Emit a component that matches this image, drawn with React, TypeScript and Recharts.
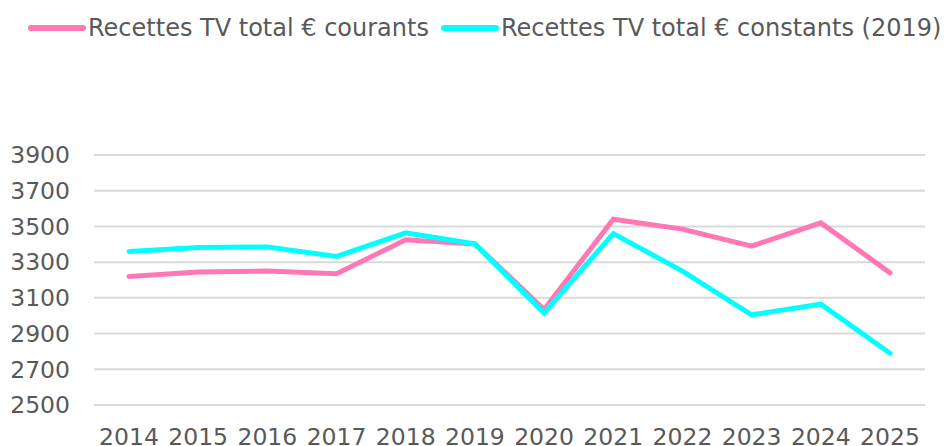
import { LineChart, Line, XAxis, YAxis, CartesianGrid, Legend } from 'recharts';

const years = ['2014', '2015', '2016', '2017', '2018', '2019', '2020', '2021', '2022', '2023', '2024', '2025'];
const courants = [3220, 3245, 3250, 3235, 3425, 3402, 3035, 3540, 3485, 3390, 3520, 3240];
const constants2019 = [3360, 3382, 3385, 3332, 3464, 3402, 3015, 3460, 3250, 3005, 3065, 2790];
const yTicks = [2500, 2700, 2900, 3100, 3300, 3500, 3700, 3900];

const PINK = '#FF78B4';
const CYAN = '#00FFFF';
const TEXT = '#595959';
const FONT = '"DejaVu Sans", Verdana, sans-serif';

const data = years.map((year, i) => ({
  year,
  courants: courants[i],
  constants: constants2019[i],
}));

const legendItems = [
  { label: 'Recettes TV total € courants', color: PINK },
  { label: 'Recettes TV total € constants (2019)', color: CYAN },
];

const ChartLegend = () => (
  <div style={{ display: 'flex', alignItems: 'center', fontFamily: FONT, fontSize: 24, color: TEXT, whiteSpace: 'nowrap' }}>
    {legendItems.map((item) => (
      <div key={item.label} style={{ display: 'flex', alignItems: 'center', marginRight: 12 }}>
        <svg width={58} height={10} style={{ marginRight: 2 }}>
          <line x1={3} y1={5} x2={55} y2={5} stroke={item.color} strokeWidth={6} strokeLinecap="round" />
        </svg>
        <span>{item.label}</span>
      </div>
    ))}
  </div>
);

export default function App() {
  return (
    <div style={{ position: 'absolute', left: 0, top: 0 }}>
      <LineChart width={949} height={446} data={data} margin={{ top: 155, right: 24, left: 0, bottom: 0 }}>
        <CartesianGrid vertical={false} stroke="#D9D9D9" strokeWidth={2} />
        <XAxis
          dataKey="year"
          axisLine={false}
          tickLine={false}
          height={41}
          padding={{ left: 35, right: 35 }}
          tickMargin={17}
          interval={0}
          tick={{ fill: TEXT, fontSize: 23.5, fontFamily: FONT }}
        />
        <YAxis
          domain={[2500, 3900]}
          ticks={yTicks}
          axisLine={false}
          tickLine={false}
          width={94}
          tickMargin={18}
          interval={0}
          tick={{ fill: TEXT, fontSize: 23.5, fontFamily: FONT }}
        />
        <Legend verticalAlign="middle" wrapperStyle={{ top: 14, left: 28 }} content={() => <ChartLegend />} />
        <Line dataKey="courants" stroke={PINK} strokeWidth={5} dot={false} isAnimationActive={false} strokeLinecap="round" />
        <Line dataKey="constants" stroke={CYAN} strokeWidth={5} dot={false} isAnimationActive={false} strokeLinecap="round" />
      </LineChart>
    </div>
  );
}
